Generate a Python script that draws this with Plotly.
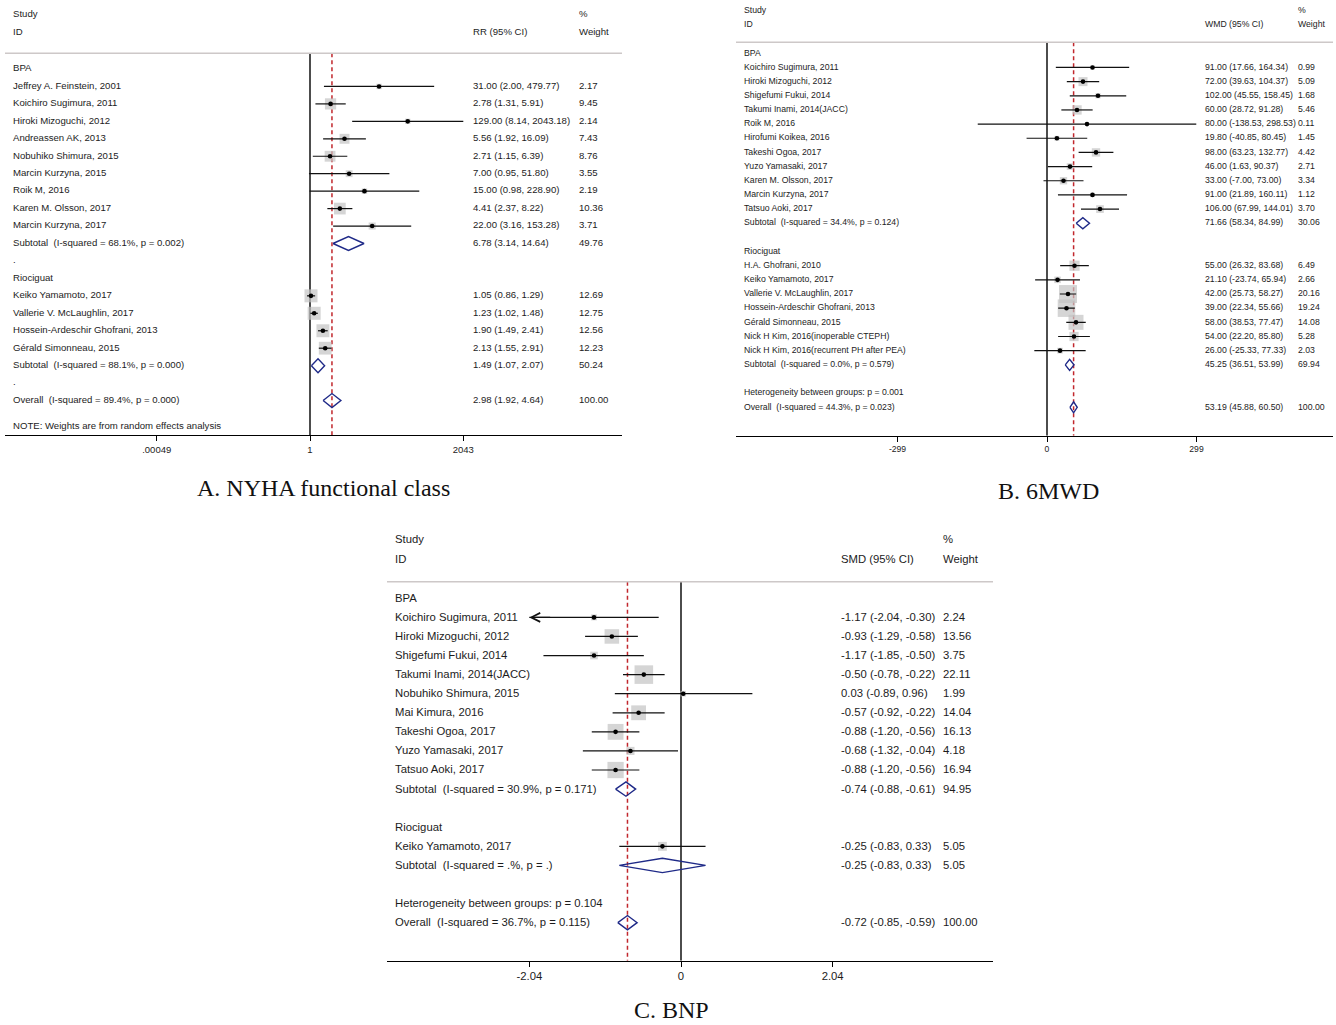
import math
import plotly.graph_objects as go

# ---------------- A. NYHA functional class (risk ratio, log scale) ----------------
A_names = ["Jeffrey A. Feinstein, 2001", "Koichiro Sugimura, 2011", "Hiroki Mizoguchi, 2012",
           "Andreassen AK, 2013", "Nobuhiko Shimura, 2015", "Marcin Kurzyna, 2015",
           "Roik M, 2016", "Karen M. Olsson, 2017", "Marcin Kurzyna, 2017",
           "Keiko Yamamoto, 2017", "Vallerie V. McLaughlin, 2017",
           "Hossein-Ardeschir Ghofrani, 2013", "Gérald Simonneau, 2015"]
A_group = ["BPA"] * 9 + ["Riociguat"] * 4
A_est = [31.00, 2.78, 129.00, 5.56, 2.71, 7.00, 15.00, 4.41, 22.00, 1.05, 1.23, 1.90, 2.13]
A_lo = [2.00, 1.31, 8.14, 1.92, 1.15, 0.95, 0.98, 2.37, 3.16, 0.86, 1.02, 1.49, 1.55]
A_hi = [479.77, 5.91, 2043.18, 16.09, 6.39, 51.80, 228.90, 8.22, 153.28, 1.29, 1.48, 2.41, 2.91]
A_wt = [2.17, 9.45, 2.14, 7.43, 8.76, 3.55, 2.19, 10.36, 3.71, 12.69, 12.75, 12.56, 12.23]
A_sub_groups = ["BPA", "Riociguat"]
A_sub_i2 = ["68.1", "88.1"]
A_sub_p = ["0.002", "0.000"]
A_sub_est = [6.78, 1.49]
A_sub_lo = [3.14, 1.07]
A_sub_hi = [14.64, 2.07]
A_sub_wt = [49.76, 50.24]
A_overall_i2, A_overall_p = "89.4", "0.000"
A_overall = [2.98, 1.92, 4.64, 100.00]
A_between = None
A_null = 1
A_measure = "RR (95% CI)"
A_ticks = [0.00049, 1, 2043]
A_ticktext = [".00049", "1", "2043"]
A_note = "NOTE: Weights are from random effects analysis"
A_title = "A. NYHA functional class"

# ---------------- B. 6MWD (weighted mean difference) ----------------
B_names = ["Koichiro Sugimura, 2011", "Hiroki Mizoguchi, 2012", "Shigefumi Fukui, 2014",
           "Takumi Inami, 2014(JACC)", "Roik M, 2016", "Hirofumi Koikea, 2016",
           "Takeshi Ogoa, 2017", "Yuzo Yamasaki, 2017", "Karen M. Olsson, 2017",
           "Marcin Kurzyna, 2017", "Tatsuo Aoki, 2017",
           "H.A. Ghofrani, 2010", "Keiko Yamamoto, 2017", "Vallerie V. McLaughlin, 2017",
           "Hossein-Ardeschir Ghofrani, 2013", "Gérald Simonneau, 2015",
           "Nick H Kim, 2016(inoperable CTEPH)", "Nick H Kim, 2016(recurrent PH after PEA)"]
B_group = ["BPA"] * 11 + ["Riociguat"] * 7
B_est = [91.00, 72.00, 102.00, 60.00, 80.00, 19.80, 98.00, 46.00, 33.00, 91.00, 106.00,
         55.00, 21.10, 42.00, 39.00, 58.00, 54.00, 26.00]
B_lo = [17.66, 39.63, 45.55, 28.72, -138.53, -40.85, 63.23, 1.63, -7.00, 21.89, 67.99,
        26.32, -23.74, 25.73, 22.34, 38.53, 22.20, -25.33]
B_hi = [164.34, 104.37, 158.45, 91.28, 298.53, 80.45, 132.77, 90.37, 73.00, 160.11, 144.01,
        83.68, 65.94, 58.27, 55.66, 77.47, 85.80, 77.33]
B_wt = [0.99, 5.09, 1.68, 5.46, 0.11, 1.45, 4.42, 2.71, 3.34, 1.12, 3.70,
        6.49, 2.66, 20.16, 19.24, 14.08, 5.28, 2.03]
B_sub_groups = ["BPA", "Riociguat"]
B_sub_i2 = ["34.4", "0.0"]
B_sub_p = ["0.124", "0.579"]
B_sub_est = [71.66, 45.25]
B_sub_lo = [58.34, 36.51]
B_sub_hi = [84.99, 53.99]
B_sub_wt = [30.06, 69.94]
B_overall_i2, B_overall_p = "44.3", "0.023"
B_overall = [53.19, 45.88, 60.50, 100.00]
B_between = "0.001"
B_null = 0
B_measure = "WMD (95% CI)"
B_ticks = [-299, 0, 299]
B_ticktext = ["-299", "0", "299"]
B_title = "B. 6MWD"

# ---------------- C. BNP (standardised mean difference) ----------------
C_names = ["Koichiro Sugimura, 2011", "Hiroki Mizoguchi, 2012", "Shigefumi Fukui, 2014",
           "Takumi Inami, 2014(JACC)", "Nobuhiko Shimura, 2015", "Mai Kimura, 2016",
           "Takeshi Ogoa, 2017", "Yuzo Yamasaki, 2017", "Tatsuo Aoki, 2017",
           "Keiko Yamamoto, 2017"]
C_group = ["BPA"] * 9 + ["Riociguat"]
C_est = [-1.17, -0.93, -1.17, -0.50, 0.03, -0.57, -0.88, -0.68, -0.88, -0.25]
C_lo = [-2.04, -1.29, -1.85, -0.78, -0.89, -0.92, -1.20, -1.32, -1.20, -0.83]
C_hi = [-0.30, -0.58, -0.50, -0.22, 0.96, -0.22, -0.56, -0.04, -0.56, 0.33]
C_wt = [2.24, 13.56, 3.75, 22.11, 1.99, 14.04, 16.13, 4.18, 16.94, 5.05]
C_sub_groups = ["BPA", "Riociguat"]
C_sub_i2 = ["30.9", "."]
C_sub_p = ["0.171", "."]
C_sub_est = [-0.74, -0.25]
C_sub_lo = [-0.88, -0.83]
C_sub_hi = [-0.61, 0.33]
C_sub_wt = [94.95, 5.05]
C_overall_i2, C_overall_p = "36.7", "0.115"
C_overall = [-0.72, -0.85, -0.59, 100.00]
C_between = "0.104"
C_null = 0
C_measure = "SMD (95% CI)"
C_ticks = [-2.04, 0, 2.04]
C_ticktext = ["-2.04", "0", "2.04"]
C_title = "C. BNP"

# ---------------- styling ----------------
W, H = 1336, 1025
SANS = "Liberation Sans, Arial, sans-serif"
SERIF = "Liberation Serif, Times New Roman, serif"
TXT = "#1c1c1c"
BOX = "#c3c3c3"
DIAMOND = "#1f2a88"
REFLINE = "#c1272d"
SEPLINE = "#cdc8c8"
NB = "\u00a0"


def pxx(px):
    return px / W


def pxy(py):
    return 1 - py / H


def build_rows(names, group, est, lo, hi, wt, sub_groups, sub_i2, sub_p, sub_est, sub_lo,
               sub_hi, sub_wt, overall_i2, overall_p, overall, between, blank):
    rows, r = [], 0
    for k, g in enumerate(sub_groups):
        rows.append(dict(kind="head", label=g, row=r)); r += 1
        for i, n in enumerate(names):
            if group[i] == g:
                rows.append(dict(kind="study", label=n, est=est[i], lo=lo[i], hi=hi[i],
                                 wt=wt[i], row=r)); r += 1
        rows.append(dict(kind="sub", label=f"Subtotal{NB} (I-squared = {sub_i2[k]}%, p = {sub_p[k]})",
                         est=sub_est[k], lo=sub_lo[k], hi=sub_hi[k], wt=sub_wt[k], row=r)); r += 1
        rows.append(dict(kind="head", label=blank, row=r)); r += 1
    if between is not None:
        rows.append(dict(kind="head", label=f"Heterogeneity between groups: p = {between}", row=r)); r += 1
    rows.append(dict(kind="sub", label=f"Overall{NB} (I-squared = {overall_i2}%, p = {overall_p})",
                     est=overall[0], lo=overall[1], hi=overall[2], wt=overall[3], row=r))
    return rows


fig = go.Figure()
annotations = []
shapes = []


def draw_panel(n, rows, null, measure, ticks, ticktext, title, geo, note=None):
    xr = "x" if n == 1 else f"x{n}"
    yr = "y" if n == 1 else f"y{n}"
    xa = "xaxis" if n == 1 else f"xaxis{n}"
    ya = "yaxis" if n == 1 else f"yaxis{n}"

    def row_of(py):
        return (py - geo["row0"]) / geo["step"]

    y_axis = row_of(geo["axis"])
    y_top = row_of(geo["top"])
    y_sep = row_of(geo["sep"])
    base = math.log10(null) if geo["log"] else null
    xrange = [base + (geo["left"] - geo["null_px"]) / geo["unit_px"],
              base + (geo["right"] - geo["null_px"]) / geo["unit_px"]]

    fs = geo["font"]
    studies = [r for r in rows if r["kind"] == "study"]
    subs = [r for r in rows if r["kind"] == "sub"]
    common = dict(xaxis=xr, yaxis=yr, hoverinfo="skip", showlegend=False, cliponaxis=False)

    # reference lines: line of no effect and pooled estimate
    fig.add_trace(go.Scatter(x=[null, null], y=[y_sep, y_axis], mode="lines",
                             line=dict(color="#000", width=1.4), **common))
    ov = subs[-1]["est"]
    fig.add_trace(go.Scatter(x=[ov, ov], y=[y_sep, y_axis], mode="lines",
                             line=dict(color=REFLINE, width=1.5, dash="4px,3px"), **common))

    # study weight boxes
    fig.add_trace(go.Scatter(
        x=[s["est"] for s in studies], y=[s["row"] for s in studies], mode="markers",
        marker=dict(symbol="square", color=BOX, line=dict(width=0),
                    size=[geo["box_k"] * s["wt"] ** 0.5 for s in studies]), **common))
    # confidence intervals
    cx, cy = [], []
    for s in studies:
        cx += [s["lo"], s["hi"], None]
        cy += [s["row"], s["row"], None]
    fig.add_trace(go.Scatter(x=cx, y=cy, mode="lines", line=dict(color="#111", width=1.2), **common))
    # point estimates
    fig.add_trace(go.Scatter(
        x=[s["est"] for s in studies], y=[s["row"] for s in studies], mode="markers",
        marker=dict(symbol="circle", color="#000", size=4.6, line=dict(width=0)), **common))
    # pooled diamonds
    dx, dy = [], []
    h = geo["dia"]
    for s in subs:
        dx += [s["lo"], s["est"], s["hi"], s["est"], s["lo"], None]
        dy += [s["row"], s["row"] - h, s["row"], s["row"] + h, s["row"], None]
    fig.add_trace(go.Scatter(x=dx, y=dy, mode="lines", line=dict(color=DIAMOND, width=1.4), **common))

    # truncated intervals get an arrow at the axis limit
    if not geo["log"]:
        for s in studies:
            if s["lo"] <= min(ticks):
                annotations.append(dict(
                    x=s["lo"], y=s["row"], ax=s["lo"] + 0.3 * (ticks[-1] - ticks[0]) / 4.08, ay=s["row"],
                    xref=xr, yref=yr, axref=xr, ayref=yr, text="", showarrow=True,
                    arrowhead=5, arrowsize=1.6, arrowwidth=1.1, arrowcolor="#111"))

    def txt(px, row, text, size=fs):
        annotations.append(dict(x=pxx(px), y=row, xref="paper", yref=yr, text=text,
                                showarrow=False, xanchor="left", yanchor="middle", borderpad=0,
                                yshift=geo["yshift"],
                                font=dict(family=SANS, size=size, color=TXT)))

    # header block
    txt(geo["name_x"], row_of(geo["study_py"]), "Study")
    txt(geo["name_x"], row_of(geo["id_py"]), "ID")
    txt(geo["ci_x"], row_of(geo["id_py"]), measure)
    txt(geo["wt_x"], row_of(geo["study_py"]), "%")
    txt(geo["wt_x"], row_of(geo["id_py"]), "Weight")
    shapes.append(dict(type="line", xref="paper", yref=yr, x0=pxx(geo["left"]), x1=pxx(geo["right"]),
                       y0=y_sep, y1=y_sep, line=dict(color=SEPLINE, width=1.5)))

    for r in rows:
        if r["label"]:
            txt(geo["name_x"], r["row"], r["label"])
        if r["kind"] in ("study", "sub"):
            txt(geo["ci_x"], r["row"], f"{r['est']:.2f} ({r['lo']:.2f}, {r['hi']:.2f})")
            txt(geo["wt_x"], r["row"], f"{r['wt']:.2f}")
    if note:
        txt(geo["name_x"], row_of(geo["note_py"]), note)

    annotations.append(dict(x=pxx(geo["title_x"]), y=pxy(geo["title_y"]), xref="paper", yref="paper",
                            text=title, showarrow=False, xanchor="center", yanchor="middle",
                            font=dict(family=SERIF, size=24, color="#111")))

    fig.update_layout(**{
        xa: dict(domain=[pxx(geo["left"]), pxx(geo["right"])], anchor=yr,
                 type="log" if geo["log"] else "linear", range=xrange,
                 tickvals=ticks, ticktext=ticktext, ticks="outside", ticklen=5, tickwidth=1.2,
                 tickcolor="#000", showline=True, linecolor="#000", linewidth=1.4,
                 showgrid=False, zeroline=False, fixedrange=True,
                 tickfont=dict(family=SANS, size=geo["tickfont"], color=TXT)),
        ya: dict(domain=[pxy(geo["axis"]), pxy(geo["top"])], anchor=xr,
                 range=[y_axis, y_top], visible=False, showgrid=False, zeroline=False,
                 fixedrange=True),
    })


A_rows = build_rows(A_names, A_group, A_est, A_lo, A_hi, A_wt, A_sub_groups, A_sub_i2, A_sub_p,
                    A_sub_est, A_sub_lo, A_sub_hi, A_sub_wt, A_overall_i2, A_overall_p,
                    A_overall, A_between, ".")
B_rows = build_rows(B_names, B_group, B_est, B_lo, B_hi, B_wt, B_sub_groups, B_sub_i2, B_sub_p,
                    B_sub_est, B_sub_lo, B_sub_hi, B_sub_wt, B_overall_i2, B_overall_p,
                    B_overall, B_between, "")
C_rows = build_rows(C_names, C_group, C_est, C_lo, C_hi, C_wt, C_sub_groups, C_sub_i2, C_sub_p,
                    C_sub_est, C_sub_lo, C_sub_hi, C_sub_wt, C_overall_i2, C_overall_p,
                    C_overall, C_between, "")

draw_panel(1, A_rows, A_null, A_measure, A_ticks, A_ticktext, A_title, dict(
    log=True, left=5, right=622, null_px=310, unit_px=46.31, top=0, axis=435,
    row0=69, step=17.45, sep=53.3, study_py=15, id_py=32.5, note_py=426.5,
    name_x=12, ci_x=472, wt_x=578, font=9.6, tickfont=9.5, box_k=3.65, dia=0.4,
    yshift=1.2, title_x=323, title_y=488), note=A_note)
draw_panel(2, B_rows, B_null, B_measure, B_ticks, B_ticktext, B_title, dict(
    log=False, left=736, right=1333, null_px=1047, unit_px=0.5, top=0, axis=435.7,
    row0=53.3, step=14.16, sep=42.3, study_py=11, id_py=25,
    name_x=743, ci_x=1204, wt_x=1297, font=8.7, tickfont=8.6, box_k=4.0, dia=0.39,
    yshift=0.8, title_x=1048, title_y=491))
draw_panel(3, C_rows, C_null, C_measure, C_ticks, C_ticktext, C_title, dict(
    log=False, left=387, right=993, null_px=681, unit_px=74.35, top=520, axis=960.7,
    row0=598.3, step=19.08, sep=581.7, study_py=540, id_py=559.3,
    name_x=394, ci_x=840, wt_x=942, font=11.3, tickfont=11.3, box_k=3.95, dia=0.375,
    yshift=0.6, title_x=671, title_y=1010))

fig.update_layout(width=W, height=H, margin=dict(l=0, r=0, t=0, b=0),
                  paper_bgcolor="white", plot_bgcolor="rgba(0,0,0,0)",
                  annotations=annotations, shapes=shapes, showlegend=False)

fig.write_html("out.html")
